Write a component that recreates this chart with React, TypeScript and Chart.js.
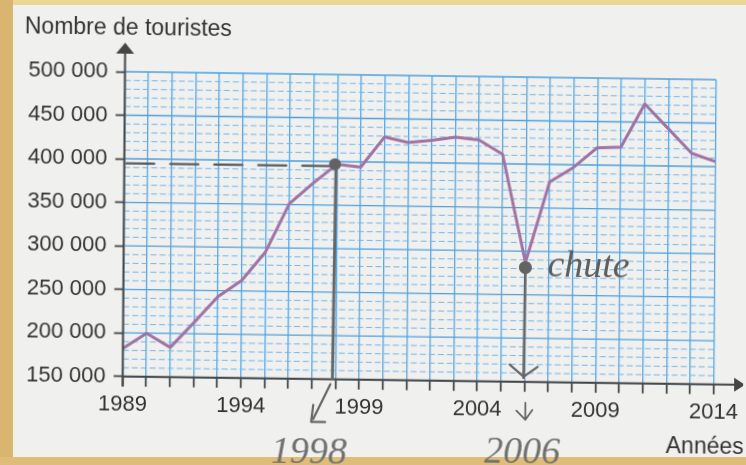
import React, { useEffect, useRef } from 'react';
import { Chart, registerables } from 'chart.js';

Chart.register(...registerables);

// ---- data ----
const years = [
  1989, 1990, 1991, 1992, 1993, 1994, 1995, 1996, 1997, 1998, 1999, 2000, 2001,
  2002, 2003, 2004, 2005, 2006, 2007, 2008, 2009, 2010, 2011, 2012, 2013, 2014,
];
const tourists = [
  182000, 200000, 184000, 213000, 243000, 262000, 295000, 351000, 375000, 397000,
  394000, 429000, 423000, 426000, 430000, 427000, 411000, 287000, 380000, 397000,
  420000, 421000, 471000, 443000, 415000, 406000,
];
const xLabelYears = [1989, 1994, 1999, 2004, 2009, 2014];
const yMin = 150000;
const yMax = 500000;
const yMajorStep = 50000;
const yMinorStep = 10000;
const readYear = 1998;
const dropYear = 2006;
const yTitle = 'Nombre de touristes';
const xTitle = 'Années';
const noteRead = '1998';
const noteDrop = '2006';
const noteChute = 'chute';

const fmt = (v: number) => String(v).replace(/\B(?=(\d{3})+(?!\d))/g, ' ');

const TEXT = '#333333';
const AXIS = '#454545';
const PENCIL = '#676767';
const LABEL_FONT = '"Liberation Sans", Arial, sans-serif';
const HAND_FONT = '"Liberation Serif", serif';

const paperPlugin = {
  id: 'paper',
  beforeDatasetsDraw(chart: any) {
    const { ctx, chartArea: a, scales } = chart;
    const y = scales.y;
    ctx.save();
    for (let v = yMin; v <= yMax; v += yMinorStep) {
      const py = y.getPixelForValue(v);
      const major = v % yMajorStep === 0;
      ctx.beginPath();
      ctx.strokeStyle = major ? '#4ba1e2' : '#70b6ec';
      ctx.lineWidth = major ? 1.4 : 1;
      ctx.setLineDash(major ? [] : [6, 3]);
      ctx.moveTo(a.left, py);
      ctx.lineTo(a.right, py);
      ctx.stroke();
    }
    ctx.restore();
  },
  afterDatasetsDraw(chart: any) {
    const { ctx, chartArea: a, scales } = chart;
    const x = scales.x;
    const y = scales.y;
    const W = chart.width;
    ctx.save();
    // axes
    ctx.strokeStyle = AXIS;
    ctx.fillStyle = AXIS;
    ctx.lineWidth = 2;
    ctx.beginPath();
    ctx.moveTo(a.left, a.bottom + 10);
    ctx.lineTo(a.left, a.top - 20);
    ctx.moveTo(a.left, a.bottom);
    ctx.lineTo(W - 8, a.bottom);
    ctx.stroke();
    ctx.beginPath();
    ctx.moveTo(a.left, a.top - 29);
    ctx.lineTo(a.left - 9, a.top - 18);
    ctx.lineTo(a.left + 9, a.top - 18);
    ctx.closePath();
    ctx.fill();
    ctx.beginPath();
    ctx.moveTo(W + 2, a.bottom);
    ctx.lineTo(W - 9, a.bottom - 7);
    ctx.lineTo(W - 9, a.bottom + 7);
    ctx.closePath();
    ctx.fill();

    // annotations
    const iR = years.indexOf(readYear);
    const iD = years.indexOf(dropYear);
    const xr = x.getPixelForValue(readYear);
    const yr = y.getPixelForValue(tourists[iR]);
    const xd = x.getPixelForValue(dropYear);
    const yd = y.getPixelForValue(tourists[iD]) + 5;
    const b = a.bottom;

    ctx.lineCap = 'round';
    ctx.lineJoin = 'round';
    // dashed reading line
    ctx.strokeStyle = '#5a5a5a';
    ctx.lineWidth = 2.2;
    ctx.setLineDash([28, 16]);
    ctx.beginPath();
    ctx.moveTo(a.left + 2, yr + 2);
    ctx.lineTo(xr, yr + 2);
    ctx.stroke();
    ctx.setLineDash([]);

    ctx.strokeStyle = PENCIL;
    ctx.lineWidth = 3;
    // 1998 vertical
    ctx.beginPath();
    ctx.moveTo(xr - 1, yr);
    ctx.lineTo(xr - 3, b);
    ctx.stroke();
    // L arrow
    ctx.lineWidth = 2.2;
    ctx.beginPath();
    ctx.moveTo(xr - 5, b + 5);
    ctx.lineTo(xr - 22, b + 40);
    ctx.moveTo(xr - 22, b + 26);
    ctx.lineTo(xr - 24, b + 43);
    ctx.lineTo(xr - 10, b + 43);
    ctx.stroke();

    // 2006 vertical
    ctx.lineWidth = 2.6;
    ctx.beginPath();
    ctx.moveTo(xd, yd);
    ctx.lineTo(xd - 1, b - 4);
    ctx.stroke();
    ctx.lineWidth = 2.2;
    ctx.beginPath();
    ctx.moveTo(xd - 15, b - 17);
    ctx.lineTo(xd - 1, b - 5);
    ctx.lineTo(xd + 13, b - 15);
    ctx.stroke();
    // small arrow below axis
    ctx.lineWidth = 1.8;
    ctx.beginPath();
    ctx.moveTo(xd + 1, b + 21);
    ctx.lineTo(xd + 1, b + 38);
    ctx.moveTo(xd - 8, b + 29);
    ctx.lineTo(xd + 1, b + 38);
    ctx.lineTo(xd + 8, b + 28);
    ctx.stroke();

    // dots
    ctx.fillStyle = '#636363';
    ctx.beginPath();
    ctx.arc(xr - 2, yr, 6, 0, Math.PI * 2);
    ctx.fill();
    ctx.beginPath();
    ctx.arc(xd, yd, 6.5, 0, Math.PI * 2);
    ctx.fill();

    // handwriting
    ctx.fillStyle = '#5e5e5e';
    ctx.font = `italic 38px ${HAND_FONT}`;
    ctx.textBaseline = 'alphabetic';
    ctx.textAlign = 'left';
    ctx.fillText(noteChute, xd + 22, yd + 9);
    ctx.fillStyle = '#707070';
    ctx.fillText(noteRead, xr - 64, b + 84);
    ctx.fillText(noteDrop, xd - 40, b + 81);
    ctx.restore();
  },
  afterDraw(chart: any) {
    const { ctx } = chart;
    ctx.save();
    ctx.fillStyle = TEXT;
    ctx.font = `23px ${LABEL_FONT}`;
    ctx.textBaseline = 'alphabetic';
    ctx.textAlign = 'left';
    ctx.fillText(yTitle, 25, 33);
    ctx.fillText(xTitle, 669, 444);
    ctx.restore();
  },
};

export default function App() {
  const ref = useRef<HTMLCanvasElement>(null);
  useEffect(() => {
    const chart = new Chart(ref.current as HTMLCanvasElement, {
      type: 'line',
      data: {
        datasets: [
          {
            data: years.map((yr, i) => ({ x: yr, y: tourists[i] })),
            borderColor: '#a073a4',
            borderWidth: 3,
            pointRadius: 0,
            tension: 0,
            borderJoinStyle: 'round',
            borderCapStyle: 'round',
          } as any,
        ],
      },
      options: {
        responsive: false,
        animation: false,
        devicePixelRatio: 1,
        layout: { padding: { top: 70, right: 27.5, left: 0, bottom: 0 } },
        plugins: {
          legend: { display: false },
          tooltip: { enabled: false },
          title: { display: false },
        },
        scales: {
          x: {
            type: 'linear',
            min: years[0],
            max: years[years.length - 1],
            afterFit: (s: any) => {
              s.height = 90.3;
            },
            grid: {
              color: '#55a7e5',
              lineWidth: 1.3,
              drawTicks: true,
              tickLength: 10,
              tickColor: AXIS,
              tickWidth: 1.8,
            },
            border: { display: false },
            ticks: {
              stepSize: 1,
              autoSkip: false,
              maxRotation: 0,
              padding: 5,
              color: TEXT,
              font: { family: LABEL_FONT, size: 22 },
              callback: (v: any) => (xLabelYears.includes(Number(v)) ? String(v) : ''),
            },
          },
          y: {
            type: 'linear',
            min: yMin,
            max: yMax,
            afterFit: (s: any) => {
              s.width = 125.5;
            },
            grid: {
              drawOnChartArea: false,
              drawTicks: true,
              tickLength: 9,
              tickColor: (c: any) =>
                c.tick && c.tick.value % yMajorStep === 0 ? AXIS : 'rgba(0,0,0,0)',
              tickWidth: 1.8,
            },
            border: { display: false },
            ticks: {
              stepSize: yMinorStep,
              autoSkip: false,
              padding: 8,
              color: TEXT,
              font: { family: LABEL_FONT, size: 22 },
              callback: (v: any) => (Number(v) % yMajorStep === 0 ? fmt(Number(v)) : ''),
            },
          },
        },
      } as any,
      plugins: [paperPlugin],
    });
    return () => chart.destroy();
  }, []);

  return (
    <div
      style={{
        position: 'absolute',
        left: 0,
        top: 0,
        width: 746,
        height: 465,
        overflow: 'hidden',
        background: '#f0f0ef',
      }}
    >
      <div style={{ position: 'absolute', left: 0, top: 0, width: 746, height: 5, background: '#ecd596' }} />
      <div style={{ position: 'absolute', left: 0, top: 0, width: 13, height: 465, background: '#d9b570' }} />
      <div style={{ position: 'absolute', left: 0, top: 457, width: 746, height: 8, background: '#dfbd78' }} />
      <canvas
        ref={ref}
        width={746}
        height={465}
        style={{
          position: 'absolute',
          left: 0,
          top: 0,
          width: 746,
          height: 465,
          transform: 'matrix(1, 0.0135, -0.0075, 1, 0, 0)',
          transformOrigin: '0 0',
        }}
      />
    </div>
  );
}
